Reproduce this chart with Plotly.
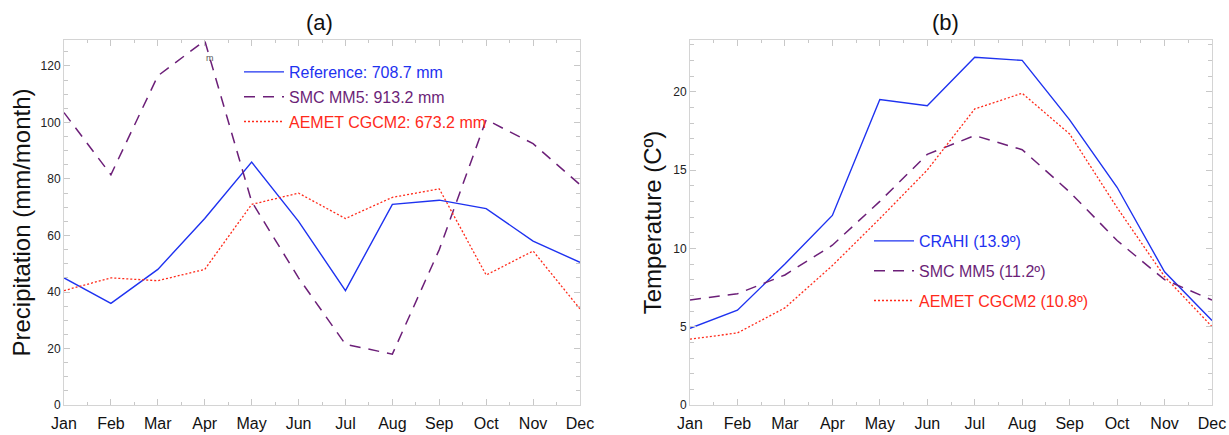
import plotly.graph_objects as go

months = ["Jan", "Feb", "Mar", "Apr", "May", "Jun", "Jul", "Aug", "Sep", "Oct", "Nov", "Dec"]

# Panel (a): precipitation (mm/month)
precip_reference = [45, 36, 48, 66, 86, 65, 40.5, 71, 72.5, 69.5, 58, 50.5]
precip_smc_mm5 = [103.5, 81.5, 116.5, 129, 72, 45, 21.5, 18, 55, 101, 92.5, 78]
precip_aemet = [40.5, 45, 44, 48, 71, 75, 66, 73.5, 76.5, 46, 54.5, 34]

# Panel (b): temperature (C)
temp_crahi = [4.9, 6.05, 9.0, 12.1, 19.5, 19.1, 22.2, 22.0, 18.2, 13.9, 8.5, 5.4]
temp_smc_mm5 = [6.7, 7.1, 8.3, 10.2, 13.0, 16.0, 17.2, 16.3, 13.6, 10.5, 8.0, 6.7]
temp_aemet = [4.2, 4.6, 6.2, 8.9, 11.9, 15.0, 18.9, 19.9, 17.3, 12.6, 8.2, 5.0]

names_a = ["Reference: 708.7 mm", "SMC MM5: 913.2 mm", "AEMET CGCM2: 673.2 mm"]
names_b = ["CRAHI (13.9º)", "SMC MM5 (11.2º)", "AEMET CGCM2 (10.8º)"]

BLUE = "#1e32f0"
PURPLE = "#6c1f78"
RED = "#ff2a1a"
FONT = "Liberation Sans"

x = list(range(len(months)))

fig = go.Figure()

styles = [
    dict(color=BLUE, width=1.4, dash="solid"),
    dict(color=PURPLE, width=1.5, dash="11px,8px"),
    dict(color=RED, width=1.3, dash="2px,2px"),
]

for i, (vals, nm) in enumerate(zip([precip_reference, precip_smc_mm5, precip_aemet], names_a)):
    fig.add_trace(go.Scatter(
        x=x, y=vals, mode="lines", line=styles[i],
        name=f'<span style="color:{styles[i]["color"]}">{nm}</span>',
        legend="legend", legendgroup=f"a{i}", xaxis="x", yaxis="y"))

for i, (vals, nm) in enumerate(zip([temp_crahi, temp_smc_mm5, temp_aemet], names_b)):
    fig.add_trace(go.Scatter(
        x=x, y=vals, mode="lines", line=styles[i],
        name=f'<span style="color:{styles[i]["color"]}">{nm}</span>',
        legend="legend2", legendgroup=f"b{i}", xaxis="x2", yaxis="y2"))

W, H = 1229, 435
ydom = [(H - 405) / H, (H - 40) / H]

axis_common = dict(
    showgrid=False, zeroline=False, showline=True, linecolor="#d4d4d4", linewidth=1,
    mirror="ticks", ticks="inside", ticklen=6, tickcolor="#c8c8c8", tickwidth=1,
    automargin=False,
)

xaxis_common = dict(
    axis_common, range=[0, 11], tickmode="array", tickvals=x, ticktext=months,
    tickfont=dict(family=FONT, size=16, color="#111"), ticklabelstandoff=4,
    minor=dict(dtick=0.5, tick0=0, ticks="inside", ticklen=3, tickcolor="#c8c8c8"),
)

fig.update_layout(
    width=W, height=H,
    margin=dict(l=0, r=0, t=0, b=0),
    paper_bgcolor="white", plot_bgcolor="white",
    showlegend=True,
    xaxis=dict(xaxis_common, domain=[64 / W, 580 / W], anchor="y"),
    yaxis=dict(axis_common, domain=ydom, anchor="x", range=[0, 129.2],
               tickvals=[0, 20, 40, 60, 80, 100, 120],
               tickfont=dict(family=FONT, size=12, color="#222"),
               minor=dict(dtick=5, tick0=0, ticks="inside", ticklen=4, tickcolor="#c8c8c8"),
               title=dict(text="Precipitation (mm/month)", standoff=3,
                          font=dict(family=FONT, size=24, color="#111"))),
    xaxis2=dict(xaxis_common, domain=[690 / W, 1212 / W], anchor="y2"),
    yaxis2=dict(axis_common, domain=ydom, anchor="x2", range=[0, 23.3],
                tickvals=[0, 5, 10, 15, 20],
                tickfont=dict(family=FONT, size=12, color="#222"),
                minor=dict(dtick=1, tick0=0, ticks="inside", ticklen=4, tickcolor="#c8c8c8"),
                title=dict(text="Temperature (Cº)", standoff=4,
                           font=dict(family=FONT, size=24, color="#111"))),
    legend=dict(x=239 / W, y=(H - 55) / H, xanchor="left", yanchor="top",
                bgcolor="rgba(0,0,0,0)", font=dict(family=FONT, size=16),
                tracegroupgap=1, itemwidth=40),
    legend2=dict(x=869 / W, y=(H - 224) / H, xanchor="left", yanchor="top",
                 bgcolor="rgba(0,0,0,0)", font=dict(family=FONT, size=16),
                 tracegroupgap=6, itemwidth=40),
    annotations=[
        dict(text="(a)", x=319 / W, y=(H - 23) / H, xref="paper", yref="paper",
             xanchor="center", yanchor="middle",
             showarrow=False, font=dict(family=FONT, size=22, color="#111")),
        dict(text="(b)", x=945 / W, y=(H - 23) / H, xref="paper", yref="paper",
             xanchor="center", yanchor="middle",
             showarrow=False, font=dict(family=FONT, size=22, color="#111")),
        dict(text="m", x=3.12, y=123, xref="x", yref="y", showarrow=False,
             font=dict(family=FONT, size=9, color="#555")),
    ],
)

fig.write_html("out.html", config={"displayModeBar": False},
               post_script="document.body.style.margin='0';document.body.style.overflow='hidden';")
